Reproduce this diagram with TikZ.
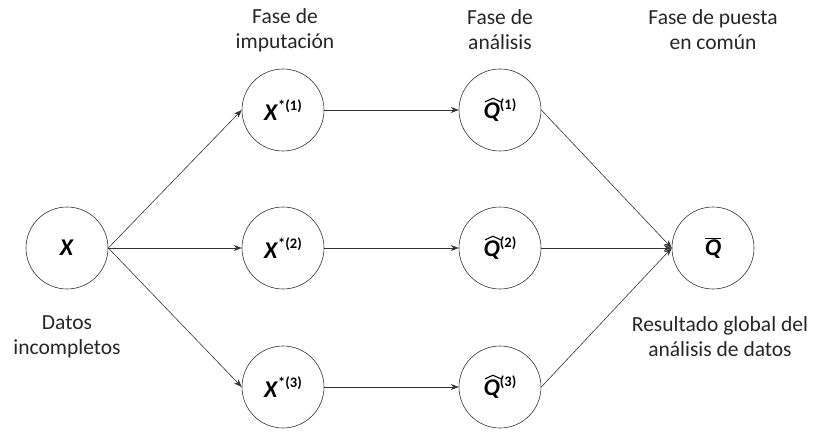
\documentclass[tikz,border=0pt]{standalone}
\usepackage{fontspec}
\setmainfont{Carlito}
\usetikzlibrary{arrows.meta}
\tikzset{
  st/.style={circle,draw=black!80,line width=0.6pt,minimum size=82pt,inner sep=0pt,font=\fontsize{24}{26}\selectfont},
  lab/.style={align=center,font=\fontsize{21.5}{25}\selectfont,text=black!85},
  con/.style={draw=black!80,line width=0.6pt,-{Stealth[length=8pt,width=6pt]}}
}
\newcommand{\bX}{\textbf{\textit{X}}}
\newcommand{\bQ}{\textbf{\textit{Q}}}
\newcommand{\hQ}{\bQ\tikz[overlay]\draw[line width=1.1pt,line join=miter] (-0.62em,0.7em)--(-0.29em,0.85em)--(0.04em,0.7em);}
\newcommand{\supx}[1]{\raisebox{0.4em}{\fontsize{14.5}{15}\selectfont\bfseries #1}}
\begin{document}
\begin{tikzpicture}[x=1pt,y=-1pt]
\useasboundingbox (0,0) rectangle (814,433);
\node[st] (x) at (67,248) {\bX};
\node[st] (x1) at (283,110) {\bX\supx{*(1)}};
\node[st] (x2) at (283,248) {\bX\supx{*(2)}};
\node[st] (x3) at (283,387) {\bX\supx{*(3)}};
\node[st] (q1) at (500,110) {\hQ\supx{(1)}};
\node[st] (q2) at (500,248) {\hQ\supx{(2)}};
\node[st] (q3) at (500,387) {\hQ\supx{(3)}};
\node[st] (qb) at (713,248) {$\overline{\mbox{\bQ}}$};
\node[lab] (l1) at (285,30) {Fase de\\imputación};
\node[lab] (l2) at (500,30) {Fase de\\análisis};
\node[lab] (l3) at (713,30) {Fase de puesta\\en común};
\node[lab] (l4) at (67,337) {Datos\\incompletos};
\node[lab] (l5) at (720,337) {Resultado global del\\análisis de datos};
\foreach \t in {x1,x2,x3} \draw[con] (x.east) -- (\t.west);
\draw[con] (x1) -- (q1);
\draw[con] (x2) -- (q2);
\draw[con] (x3) -- (q3);
\foreach \s in {q1,q2,q3} \draw[con] (\s.east) -- (qb.west);
\end{tikzpicture}
\end{document}
